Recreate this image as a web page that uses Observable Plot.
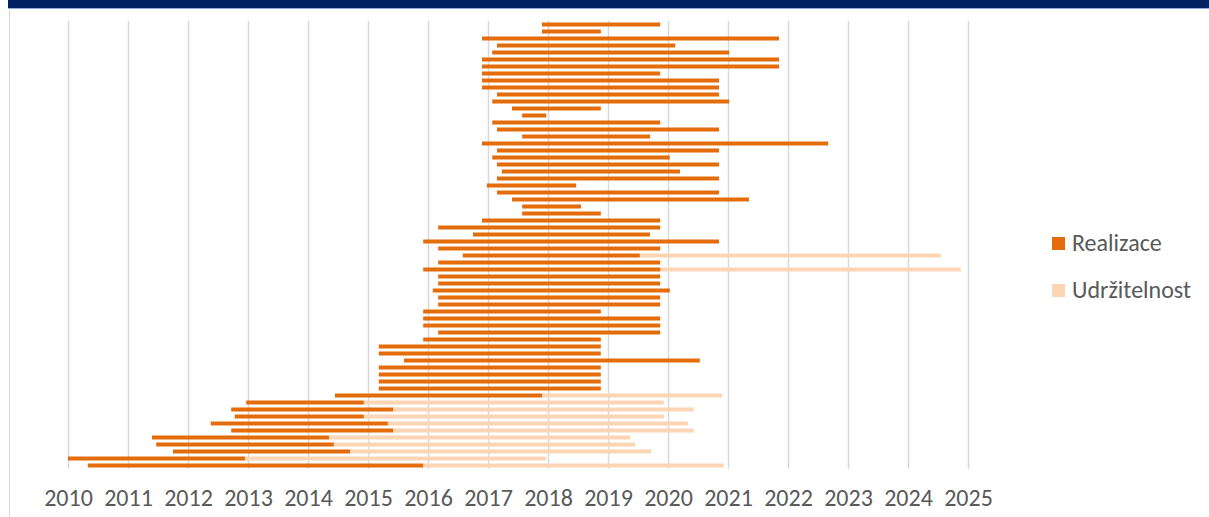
<!DOCTYPE html>
<html><head><meta charset="utf-8">
<script src="https://cdn.jsdelivr.net/npm/d3@7"></script>
<script src="https://cdn.jsdelivr.net/npm/@observablehq/plot@0.6"></script>
<style>
html,body{margin:0;padding:0;background:#fff;width:1209px;height:517px;overflow:hidden;font-family:Calibri,Carlito,"Liberation Sans",Arial,sans-serif;}
#banner{position:absolute;left:8px;top:0;width:1201px;height:8px;background:#002060;border-bottom:1px solid #8faadc;}
#frameline{position:absolute;left:9px;top:10px;width:1px;height:507px;background:#d9d9d9;}
#chart{position:absolute;left:0;top:10px;}
.legend{position:absolute;left:1052px;font-size:24px;line-height:28px;color:#595959;display:flex;align-items:center;}
.sw{width:13px;height:13px;margin-right:7px;}
</style></head><body>
<div id="banner"></div>
<div id="frameline"></div>
<div id="chart"></div>
<div class="legend" style="top:229px"><div class="sw" style="background:#E46C0A"></div>Realizace</div>
<div class="legend" style="top:276px"><div class="sw" style="background:#FCD5B5"></div>Udržitelnost</div>
<script>
// rows listed top to bottom (decimal years)
const realStart = [2017.9, 2017.9, 2016.9, 2017.15, 2017.07, 2016.9, 2016.9, 2016.9, 2016.9, 2016.9,
  2017.15, 2017.07, 2017.4, 2017.57, 2017.07, 2017.15, 2017.57, 2016.9, 2017.15, 2017.07,
  2017.15, 2017.23, 2017.15, 2016.98, 2017.15, 2017.4, 2017.57, 2017.57, 2016.9, 2016.17,
  2016.75, 2015.92, 2016.17, 2016.58, 2016.17, 2015.92, 2016.17, 2016.17, 2016.08, 2016.17,
  2016.17, 2015.92, 2015.92, 2015.92, 2016.17, 2015.92, 2015.18, 2015.18, 2015.6, 2015.18,
  2015.18, 2015.18, 2015.18, 2014.45, 2012.97, 2012.72, 2012.78, 2012.38, 2012.72, 2011.4,
  2011.47, 2011.75, 2010.0, 2010.33];
const realEnd = [2019.87, 2018.88, 2021.85, 2020.12, 2021.02, 2021.85, 2021.85, 2019.87, 2020.85, 2020.85,
  2020.85, 2021.02, 2018.88, 2017.97, 2019.87, 2020.85, 2019.7, 2022.67, 2020.85, 2020.03,
  2020.85, 2020.2, 2020.85, 2018.47, 2020.85, 2021.35, 2018.55, 2018.88, 2019.87, 2019.87,
  2019.7, 2020.85, 2019.87, 2019.53, 2019.87, 2019.87, 2019.87, 2019.87, 2020.03, 2019.87,
  2019.87, 2018.88, 2019.87, 2019.87, 2019.87, 2018.88, 2018.88, 2018.88, 2020.53, 2018.88,
  2018.88, 2018.88, 2018.88, 2017.9, 2014.93, 2015.42, 2014.93, 2015.33, 2015.42, 2014.35,
  2014.43, 2014.7, 2012.95, 2015.92];
const sustainEnd = [null, null, null, null, null, null, null, null, null, null,
  null, null, null, null, null, null, null, null, null, null,
  null, null, null, null, null, null, null, null, null, null,
  null, null, null, 2024.55, null, 2024.88, null, null, null, null,
  null, null, null, null, null, null, null, null, null, null,
  null, null, null, 2020.9, 2019.93, 2020.43, 2019.93, 2020.33, 2020.43, 2019.37,
  2019.45, 2019.72, 2017.97, 2020.93];
const years = d3.range(2010, 2026);
const projects = realStart.map((_, i) => "P" + (i + 1));

const realRows = projects.map((p, i) => ({p, x1: realStart[i], x2: realEnd[i]}));
const sustRows = projects.map((p, i) => ({p, x1: realEnd[i], x2: sustainEnd[i]})).filter(d => d.x2 != null);

const chart = Plot.plot({
  width: 1209,
  height: 507,
  marginLeft: 68,
  marginRight: 241,
  marginTop: 10.8,
  marginBottom: 48.2,
  style: {fontFamily: "Calibri, Carlito, 'Liberation Sans', Arial, sans-serif", background: "transparent"},
  x: {domain: [2010, 2025]},
  y: {domain: projects, padding: 0, axis: null},
  marks: [
    Plot.ruleX(years, {stroke: "#d9d9d9", strokeWidth: 1.5}),
    Plot.barX(sustRows, {x1: "x1", x2: "x2", y: "p", fill: "#FCD5B5", insetTop: 1.5, insetBottom: 1.5}),
    Plot.barX(realRows, {x1: "x1", x2: "x2", y: "p", fill: "#E46C0A", insetTop: 1.5, insetBottom: 1.5}),
    Plot.axisX({ticks: years, tickFormat: d => String(d), tickSize: 0, tickPadding: 20, fontSize: 24, color: "#595959"})
  ]
});
document.getElementById("chart").appendChild(chart);
</script>
</body></html>
